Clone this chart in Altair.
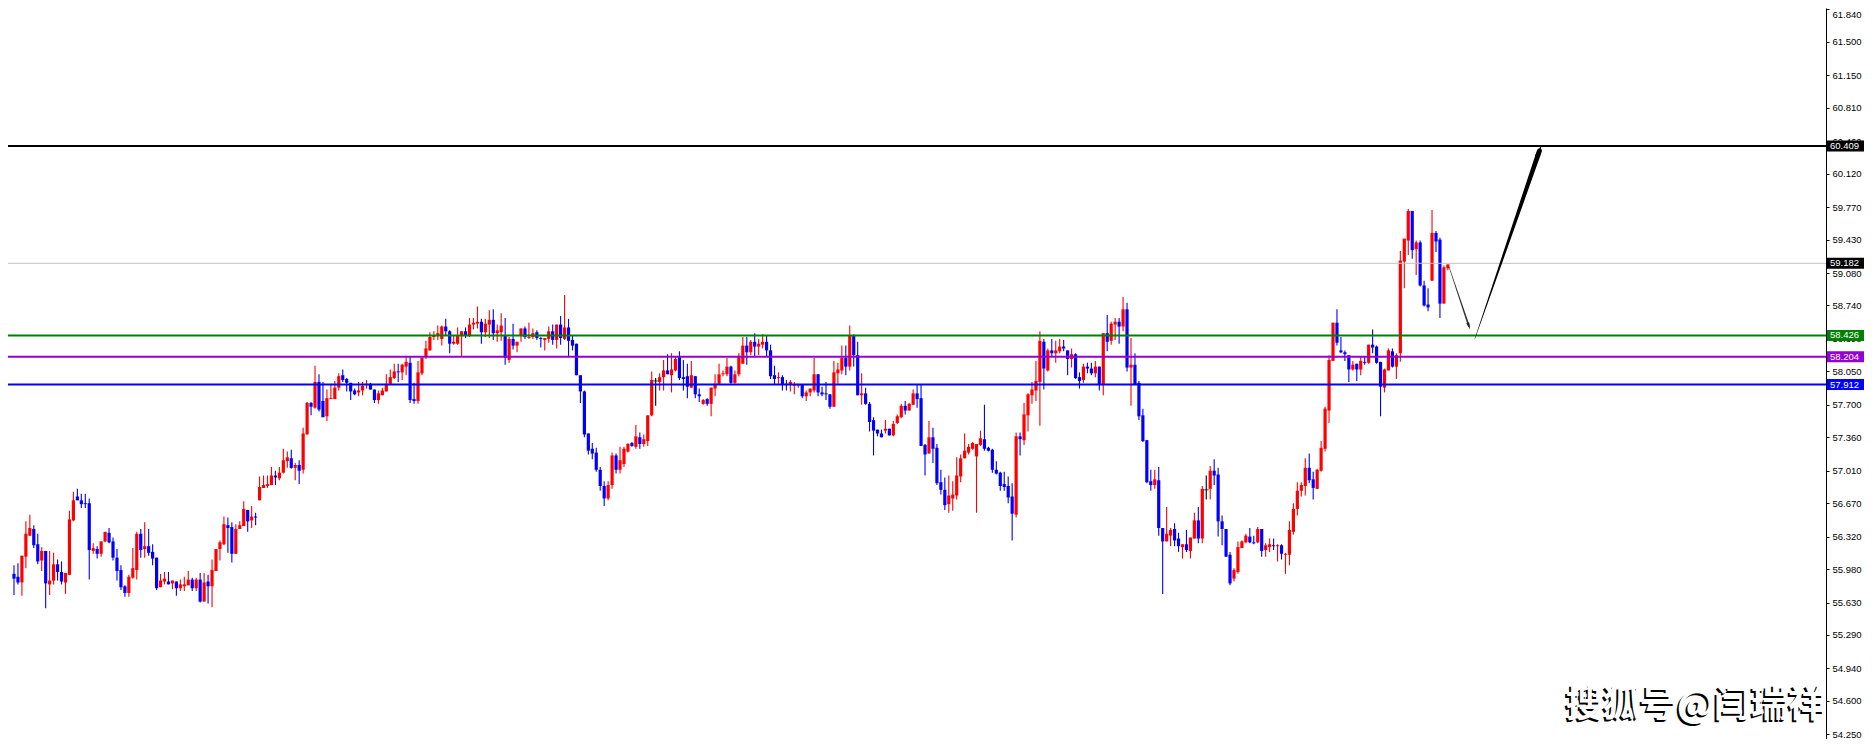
import altair as alt
import pandas as pd
import numpy as np

# ---------------- candle data ----------------
open_ = [
55.93,55.90,55.84,56.11,56.33,56.40,56.24,56.07,56.17,55.82,
55.86,56.03,55.95,55.84,55.92,56.49,56.74,56.70,56.67,56.67,
56.17,56.19,56.14,56.27,56.36,56.27,56.10,55.97,55.80,55.73,
55.89,55.97,56.35,56.19,56.22,56.16,56.10,55.79,55.85,55.85,
55.83,55.85,55.78,55.80,55.81,55.87,55.78,55.87,55.64,55.85,
55.80,55.96,56.19,56.24,56.44,56.42,56.14,56.40,56.43,56.60,
56.49,56.53,56.70,56.83,56.85,56.86,56.96,56.93,56.99,57.11,
57.14,57.04,57.07,57.02,57.39,57.72,57.67,57.94,57.74,57.58,
57.76,57.76,57.88,58.01,57.97,57.93,57.85,57.83,57.85,57.91,
57.92,57.86,57.75,57.80,57.84,57.92,57.98,58.05,58.04,58.10,
58.14,57.76,57.74,58.03,58.21,58.27,58.41,58.42,58.39,58.52,
58.47,58.34,58.34,58.42,58.47,58.42,58.54,58.55,58.57,58.46,
58.54,58.59,58.45,58.46,58.43,58.17,58.39,58.32,58.42,58.50,
58.40,58.41,58.46,58.40,58.38,58.39,58.47,58.38,58.54,58.39,
58.51,58.38,58.34,58.01,57.84,57.40,57.24,57.20,57.02,56.85,
56.72,56.86,57.17,57.02,57.08,57.21,57.30,57.26,57.36,57.29,
57.32,57.59,57.95,57.94,57.99,58.06,58.01,58.06,58.20,57.99,
58.00,57.88,58.00,57.81,57.71,57.76,57.71,57.87,57.92,58.02,
58.02,58.10,57.93,58.02,58.13,58.32,58.25,58.36,58.31,58.33,
58.36,58.27,58.01,57.98,57.99,57.92,57.91,57.90,57.90,57.91,
57.79,57.83,57.85,58.02,57.83,57.82,57.81,57.68,58.03,58.06,
58.19,58.10,58.42,58.22,57.80,57.82,57.71,57.54,57.44,57.40,
57.43,57.45,57.38,57.51,57.57,57.69,57.64,57.70,57.82,57.77,
57.28,57.19,57.36,57.25,56.89,56.81,56.66,56.72,56.75,56.95,
57.14,57.20,57.24,57.16,57.28,57.34,57.25,57.23,57.02,56.99,
56.87,56.85,56.74,56.55,57.37,57.33,57.59,57.80,57.85,57.94,
58.36,58.06,58.27,58.24,58.26,58.31,58.27,58.18,58.23,57.99,
57.96,58.10,58.08,58.03,58.10,57.91,58.45,58.37,58.54,58.57,
58.52,58.70,58.09,58.12,57.93,57.59,57.33,56.90,56.86,56.91,
56.41,56.27,56.33,56.40,56.30,56.21,56.24,56.17,56.30,56.49,
56.30,56.81,56.82,57.01,56.97,56.48,56.40,56.13,55.88,55.95,
56.20,56.26,56.32,56.26,56.26,56.40,56.18,56.21,56.23,56.22,
56.23,56.13,56.13,56.37,56.61,56.80,56.85,57.04,56.92,56.82,
57.01,57.24,57.64,58.16,58.56,58.27,58.25,58.22,58.07,58.13,
58.07,58.15,58.14,58.33,58.31,58.15,57.88,58.06,58.26,58.10,
58.24,59.20,59.42,59.73,59.33,59.40,58.95,58.75,59.00,59.50,
59.43,58.76,59.13]

high = [
56.02,56.04,56.12,56.48,56.55,56.44,56.35,56.21,56.17,56.17,
56.15,56.08,56.06,55.94,56.59,56.79,56.82,56.77,56.77,56.72,
56.25,56.22,56.27,56.37,56.41,56.31,56.19,56.02,55.81,55.92,
56.20,56.37,56.40,56.47,56.40,56.24,56.10,55.93,55.95,55.95,
55.86,55.85,55.87,55.90,55.96,55.89,55.89,55.94,55.94,55.92,
56.08,56.19,56.28,56.53,56.52,56.47,56.45,56.48,56.69,56.60,
56.64,56.57,56.95,56.96,56.96,57.05,57.01,57.05,57.24,57.21,
57.23,57.09,57.12,57.46,57.73,57.73,58.11,58.02,57.94,57.86,
57.91,57.95,58.03,58.07,57.98,57.93,57.87,57.94,57.94,57.96,
57.93,57.86,57.85,57.88,58.02,58.07,58.13,58.13,58.13,58.20,
58.20,57.93,58.16,58.21,58.37,58.46,58.47,58.53,58.53,58.60,
58.48,58.43,58.51,58.47,58.51,58.61,58.61,58.73,58.60,58.60,
58.69,58.70,58.54,58.66,58.61,58.41,58.55,58.36,58.50,58.52,
58.56,58.50,58.48,58.41,58.40,58.52,58.54,58.54,58.63,58.85,
58.60,58.43,58.34,58.01,57.85,57.40,57.30,57.25,57.05,56.90,
56.90,57.20,57.19,57.26,57.26,57.30,57.31,57.49,57.41,57.39,
57.59,58.05,57.98,58.03,58.17,58.23,58.24,58.20,58.26,58.17,
58.13,58.16,58.00,57.87,57.76,57.77,57.88,58.02,58.13,58.06,
58.19,58.11,58.06,58.24,58.41,58.41,58.38,58.45,58.39,58.44,
58.42,58.33,58.11,58.04,58.01,57.96,57.96,57.94,57.92,57.91,
57.85,57.87,58.19,58.02,57.89,57.94,57.81,58.16,58.14,58.32,
58.32,58.53,58.44,58.36,58.03,57.88,57.73,57.57,57.44,57.44,
57.54,57.45,57.53,57.60,57.71,57.74,57.72,57.86,57.91,57.91,
57.29,57.53,57.46,57.29,57.02,56.94,56.96,56.90,57.15,57.18,
57.40,57.29,57.31,57.29,57.43,57.70,57.26,57.24,57.11,57.00,
57.00,56.95,56.88,57.41,57.41,57.72,57.82,57.94,58.16,58.47,
58.39,58.29,58.39,58.37,58.39,58.38,58.27,58.29,58.24,58.04,
58.13,58.14,58.14,58.16,58.10,58.45,58.64,58.57,58.61,58.61,
58.83,58.77,58.40,58.24,57.95,57.66,57.33,57.02,57.02,57.05,
56.41,56.63,56.41,56.46,56.36,56.24,56.39,56.31,56.57,56.63,
56.85,56.96,57.06,57.13,57.04,56.54,56.40,56.16,55.99,56.27,
56.28,56.35,56.41,56.33,56.42,56.40,56.25,56.30,56.30,56.24,
56.24,56.15,56.48,56.67,56.89,56.89,57.14,57.19,57.00,57.03,
57.32,57.68,58.22,58.56,58.70,58.41,58.27,58.22,58.16,58.13,
58.20,58.20,58.33,58.49,58.32,58.15,58.08,58.29,58.29,58.24,
59.31,59.44,59.75,59.73,59.42,59.42,59.00,58.92,59.74,59.52,
59.45,59.16,59.17]

low = [
55.71,55.82,55.70,55.99,56.33,56.20,56.03,55.96,55.57,55.71,
55.82,55.86,55.82,55.72,55.92,56.48,56.70,56.62,56.62,55.87,
56.14,56.09,56.11,56.26,56.25,56.07,55.86,55.76,55.69,55.69,
55.88,55.87,56.10,56.10,56.12,56.02,55.76,55.79,55.82,55.82,
55.77,55.70,55.75,55.75,55.81,55.75,55.75,55.63,55.64,55.62,
55.58,55.96,56.07,56.23,56.15,56.05,56.14,56.40,56.43,56.37,
56.41,56.44,56.70,56.83,56.83,56.86,56.86,56.91,56.98,57.04,
57.03,56.91,56.87,56.98,57.39,57.59,57.66,57.63,57.57,57.53,
57.76,57.76,57.85,57.94,57.84,57.75,57.80,57.79,57.80,57.87,
57.86,57.72,57.71,57.80,57.84,57.91,57.97,57.94,57.96,58.01,
57.72,57.71,57.71,58.01,58.18,58.27,58.38,58.38,58.32,58.43,
58.24,58.33,58.33,58.21,58.40,58.41,58.49,58.50,58.34,58.41,
58.40,58.38,58.36,58.37,58.12,58.14,58.28,58.25,58.36,58.39,
58.39,58.39,58.38,58.30,58.27,58.35,58.33,58.29,58.33,58.38,
58.21,58.27,58.01,57.72,57.36,57.18,57.13,57.00,56.80,56.64,
56.70,56.82,56.98,56.98,57.05,57.20,57.26,57.24,57.24,57.26,
57.27,57.58,57.69,57.85,57.85,58.02,57.83,58.05,57.96,57.85,
57.77,57.88,57.77,57.73,57.70,57.69,57.58,57.79,57.92,58.00,
58.00,57.92,57.92,58.00,58.13,58.12,58.22,58.20,58.22,58.29,
58.20,57.97,57.91,57.92,57.85,57.85,57.84,57.81,57.88,57.77,
57.74,57.79,57.83,57.79,57.79,57.75,57.66,57.68,57.92,58.02,
58.01,58.06,58.10,57.80,57.70,57.70,57.42,57.17,57.37,57.36,
57.40,57.38,57.37,57.50,57.56,57.60,57.64,57.70,57.67,57.27,
56.96,57.19,57.09,56.86,56.76,56.60,56.57,56.59,56.71,56.89,
57.14,57.18,57.23,56.57,57.27,57.22,57.21,56.99,56.97,56.80,
56.80,56.67,56.28,56.52,57.17,57.28,57.42,57.71,57.74,57.48,
57.86,58.05,58.20,58.14,58.24,58.26,58.01,58.09,57.97,57.87,
57.93,58.03,58.01,57.99,57.85,57.80,58.26,58.33,58.38,58.34,
58.47,58.05,57.69,57.91,57.54,57.31,56.88,56.80,56.82,56.33,
55.72,56.27,56.22,56.22,56.16,56.09,56.16,56.09,56.30,56.25,
56.25,56.71,56.71,56.86,56.32,56.23,56.11,55.81,55.85,55.93,
56.20,56.25,56.25,56.24,56.25,56.11,56.11,56.16,56.18,56.06,
56.08,55.93,56.02,56.34,56.54,56.74,56.75,56.88,56.71,56.82,
57.00,57.21,57.51,58.16,58.32,58.24,58.16,57.94,58.06,57.95,
58.01,58.12,58.13,58.24,58.13,57.58,57.83,58.06,58.09,57.97,
58.15,58.92,59.27,59.23,59.06,58.94,58.73,58.68,59.00,59.30,
58.61,58.76,59.11]

close = [
55.88,55.84,56.12,56.35,56.41,56.23,56.06,56.17,55.83,55.86,
56.03,55.95,55.85,55.94,56.50,56.70,56.70,56.66,56.66,56.18,
56.20,56.14,56.27,56.37,56.26,56.10,55.96,55.79,55.73,55.90,
55.99,56.35,56.18,56.22,56.15,56.09,55.78,55.86,55.88,55.82,
55.86,55.78,55.82,55.82,55.87,55.78,55.87,55.64,55.84,55.80,
55.97,56.19,56.26,56.45,56.41,56.14,56.40,56.44,56.61,56.48,
56.53,56.52,56.84,56.86,56.87,56.96,56.94,56.99,57.12,57.15,
57.04,57.07,57.01,57.40,57.72,57.68,57.94,57.65,57.57,57.77,
57.77,57.88,58.00,57.96,57.93,57.84,57.81,57.85,57.90,57.92,
57.86,57.75,57.82,57.85,57.92,57.99,58.05,58.04,58.12,58.15,
57.75,57.74,58.04,58.19,58.29,58.41,58.43,58.45,58.52,58.47,
58.34,58.36,58.43,58.47,58.43,58.54,58.56,58.57,58.46,58.55,
58.59,58.45,58.48,58.53,58.19,58.39,58.32,58.36,58.50,58.41,
58.41,58.45,58.40,58.39,58.40,58.47,58.38,58.54,58.40,58.51,
58.37,58.32,58.01,57.84,57.39,57.22,57.19,57.02,56.85,56.72,
56.86,57.17,57.02,57.12,57.24,57.29,57.27,57.37,57.29,57.34,
57.59,57.96,57.95,57.99,58.06,58.02,58.07,58.18,57.98,57.97,
57.89,58.01,57.81,57.79,57.75,57.71,57.88,57.92,58.02,58.03,
58.10,57.93,58.02,58.20,58.32,58.25,58.36,58.31,58.34,58.36,
58.27,58.00,57.97,57.99,57.91,57.91,57.94,57.91,57.91,57.79,
57.83,57.87,58.02,57.83,57.81,57.81,57.68,58.04,58.07,58.19,
58.10,58.42,58.22,57.80,57.82,57.71,57.52,57.43,57.40,57.36,
57.45,57.38,57.50,57.58,57.69,57.64,57.71,57.82,57.76,57.27,
57.18,57.36,57.24,56.88,56.81,56.65,56.75,56.76,56.96,57.14,
57.22,57.26,57.30,57.29,57.35,57.24,57.22,57.02,56.98,56.85,
56.84,56.73,56.56,57.37,57.34,57.60,57.81,57.86,57.95,58.37,
58.08,58.27,58.24,58.27,58.31,58.29,58.18,58.23,57.98,57.95,
58.10,58.08,58.03,58.10,57.91,58.45,58.36,58.55,58.57,58.52,
58.70,58.09,58.12,57.91,57.58,57.32,56.89,56.86,56.92,56.41,
56.27,56.35,56.39,56.28,56.22,56.24,56.18,56.31,56.49,56.30,
56.82,56.81,57.01,56.96,56.48,56.40,56.11,55.83,55.97,56.21,
56.27,56.33,56.26,56.25,56.40,56.17,56.23,56.24,56.22,56.23,
56.14,56.14,56.39,56.61,56.80,56.86,57.04,56.91,56.83,57.02,
57.25,57.66,58.17,58.56,58.35,58.25,58.23,58.07,58.12,58.07,
58.16,58.14,58.33,58.30,58.14,57.89,58.07,58.27,58.10,58.22,
59.21,59.44,59.73,59.32,59.40,58.95,58.74,58.72,59.50,59.41,
58.76,59.14,59.17]

# ---------------- axis ticks and price levels ----------------
tick_values = [61.840, 61.500, 61.150, 60.810, 60.460, 60.120, 59.770, 59.430,
               59.080, 58.740, 58.390, 58.050, 57.700, 57.360, 57.010, 56.670,
               56.320, 55.980, 55.630, 55.290, 54.940, 54.600, 54.250]

level_prices = [60.409, 59.182, 58.426, 58.204, 57.912]
level_labels = ["60.409", "59.182", "58.426", "58.204", "57.912"]
level_colors = ["#000000", "#C0C0C0", "#008000", "#9400D3", "#0000FF"]
level_box_colors = ["#000000", "#000000", "#008000", "#9400D3", "#0000FF"]
level_widths = [2, 1, 2, 2, 2]

# ---------------- hand-drawn arrows (bar index, price) ----------------
arrow_id = ["thin", "thin", "thick", "thick"]
arrow_x = [363.3, 368.3, 369.8, 386.1]
arrow_y = [59.143, 58.525, 58.389, 60.358]
arrow_w = [0.6, 1.8, 0.4, 5.0]
arrow_col = ["#333333", "#333333", "#000000", "#000000"]

head_x = [368.3, 386.1]
head_y = [58.525, 60.358]
head_angle = [161, 19]
head_size = [49, 144]
head_col = ["#222222", "#000000"]

watermark = "搜狐号@闫瑞祥"

# ---------------- build chart ----------------
W, H = 1818, 731
n = len(close)
df = pd.DataFrame({"i": np.arange(1, n + 1), "open": open_, "high": high,
                   "low": low, "close": close})
df["dir"] = np.where(df["close"] > df["open"], "up",
                     np.where(df["close"] < df["open"], "down", "doji"))

xsc = alt.Scale(domain=[0.75, 457.2], nice=False, zero=False)
ysc = alt.Scale(domain=[54.201, 61.855], nice=False, zero=False)
yax = alt.Axis(orient="right", values=tick_values, format=".3f", grid=False,
               domain=True, domainColor="#000000", domainWidth=1,
               ticks=True, tickColor="#000000", tickSize=3, labelPadding=3,
               labelFont="Liberation Sans", labelFontSize=9.5,
               labelColor="#000000", labelFlush=3, title=None)
csc = alt.Scale(domain=["up", "down", "doji"], range=["#FF0000", "#0000FF", "#000000"])

X = lambda f: alt.X(f, type="quantitative", scale=xsc, axis=None, title=None)
Y = lambda f: alt.Y(f, type="quantitative", scale=ysc, axis=yax, title=None)

base = alt.Chart(df)
wicks = base.mark_rule(strokeWidth=1.1).encode(
    x=X("i"), y=Y("low"), y2="high",
    color=alt.Color("dir:N", scale=csc, legend=None))
bodies = base.mark_bar(size=3.2).encode(
    x=X("i"), y=Y("open"), y2="close",
    color=alt.Color("dir:N", scale=csc, legend=None))
doji = base.transform_filter(alt.datum.dir == "doji").mark_tick(
    orient="horizontal", size=5, thickness=1, color="#000000").encode(
    x=X("i"), y=Y("close"))

lv = pd.DataFrame({"p": level_prices, "lab": level_labels, "c": level_colors,
                   "bc": level_box_colors, "w": level_widths})
hlines = alt.Chart(lv).mark_rule().encode(
    y=Y("p"), color=alt.Color("c:N", scale=None),
    strokeWidth=alt.StrokeWidth("w:Q", scale=None))
boxes = alt.Chart(lv).mark_rule(strokeWidth=11, strokeCap="butt").encode(
    x=alt.value(W + 1), x2=alt.value(W + 38), y=Y("p"),
    color=alt.Color("bc:N", scale=None))
box_text = alt.Chart(lv).mark_text(align="left", baseline="middle",
                                   font="Liberation Sans", fontSize=9.5,
                                   color="#FFFFFF").encode(
    x=alt.value(W + 4), y=Y("p"), text="lab:N")

ar = pd.DataFrame({"id": arrow_id, "ax": arrow_x, "ay": arrow_y, "aw": arrow_w,
                   "c": arrow_col, "o": list(range(len(arrow_x)))})
trails = alt.Chart(ar).mark_trail().encode(
    x=X("ax"), y=Y("ay"), size=alt.Size("aw:Q", scale=None, legend=None),
    detail="id:N", order="o:Q", color=alt.Color("c:N", scale=None))
hd = pd.DataFrame({"hx": head_x, "hy": head_y, "ha": head_angle,
                   "hs": head_size, "c": head_col})
heads = alt.Chart(hd).mark_point(filled=True, opacity=1,
                                 shape="M0,-1L0.45,1L-0.45,1Z").encode(
    x=X("hx"), y=Y("hy"), angle=alt.Angle("ha:Q", scale=None),
    size=alt.Size("hs:Q", scale=None, legend=None),
    color=alt.Color("c:N", scale=None))

wm = pd.DataFrame({"t": [watermark]})
wm_shadow = alt.Chart(wm).mark_text(align="right", baseline="middle",
                                    font="Noto Sans CJK SC", fontSize=37,
                                    fontWeight="bold", color="#000000",
                                    dx=-2, dy=2).encode(
    x=alt.value(W - 1), y=alt.value(698), text="t:N")
wm_text = alt.Chart(wm).mark_text(align="right", baseline="middle",
                                  font="Noto Sans CJK SC", fontSize=37,
                                  fontWeight="bold", color="#FFFFFF").encode(
    x=alt.value(W - 1), y=alt.value(698), text="t:N")

chart = alt.layer(wicks, bodies, doji, hlines, trails, heads, boxes, box_text,
                  wm_shadow, wm_text).properties(
    width=W, height=H,
    autosize=alt.AutoSizeParams(type="none"),
    padding={"left": 0, "top": 0, "right": 40, "bottom": 0},
    background="#FFFFFF",
).configure_view(stroke=None)

chart.save("out.html", embed_options={"renderer": "svg", "actions": False})
